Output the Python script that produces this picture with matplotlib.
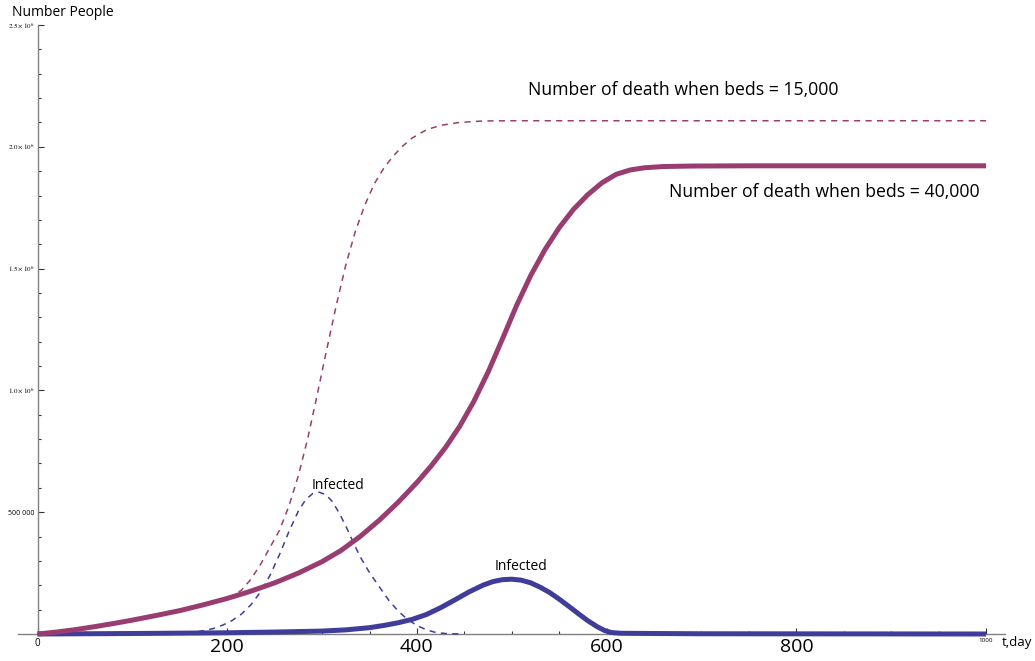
import matplotlib
matplotlib.use("Agg")
import matplotlib.pyplot as plt
from matplotlib.ticker import MultipleLocator

# deaths, 40,000 beds (solid purple), millions
days_d40 = [0, 20, 40, 60, 80, 100, 125, 150, 175, 200, 225, 250, 275, 300, 320, 340,
            360, 380, 400, 415, 430, 445, 460, 475, 490, 505, 520, 535, 550, 565, 580,
            595, 610, 625, 640, 660, 690, 750, 1000]
deaths_40 = [0.0, 0.008, 0.018, 0.030, 0.043, 0.057, 0.076, 0.096, 0.120, 0.146, 0.176,
             0.210, 0.250, 0.297, 0.343, 0.400, 0.466, 0.540, 0.622, 0.690, 0.765, 0.852,
             0.955, 1.075, 1.210, 1.348, 1.472, 1.578, 1.668, 1.743, 1.803, 1.852, 1.887,
             1.905, 1.914, 1.919, 1.921, 1.922, 1.922]

# deaths, 15,000 beds (dashed purple), millions
days_d15 = [0, 20, 40, 60, 80, 100, 125, 150, 175, 200, 205, 215, 225, 235, 245, 255,
            265, 275, 285, 295, 305, 315, 325, 335, 345, 355, 365, 375, 385, 395, 410,
            425, 445, 470, 500, 1000]
deaths_15 = [0.0, 0.008, 0.018, 0.030, 0.043, 0.057, 0.076, 0.096, 0.120, 0.146, 0.153,
             0.180, 0.225, 0.285, 0.355, 0.425, 0.525, 0.650, 0.805, 0.985, 1.170, 1.350,
             1.515, 1.652, 1.760, 1.848, 1.912, 1.962, 2.003, 2.036, 2.070, 2.088, 2.100,
             2.106, 2.107, 2.107]

# infected, 40,000 beds (solid blue), millions
days_i40 = [0, 100, 200, 250, 300, 325, 350, 365, 380, 395, 410, 425, 440, 455, 470,
            480, 490, 500, 510, 520, 530, 540, 550, 560, 570, 580, 590, 598, 605, 615,
            650, 700, 1000]
infected_40 = [0.0, 0.002, 0.005, 0.008, 0.012, 0.017, 0.026, 0.035, 0.046, 0.060, 0.080,
               0.108, 0.140, 0.173, 0.201, 0.215, 0.223, 0.225, 0.221, 0.210, 0.192,
               0.170, 0.143, 0.114, 0.084, 0.055, 0.030, 0.014, 0.006, 0.003, 0.002,
               0.001, 0.0]

# infected, 15,000 beds (dashed blue), millions
days_i15 = [0, 100, 150, 170, 185, 195, 205, 215, 225, 235, 245, 255, 265, 275, 283,
            290, 297, 304, 311, 319, 326, 333, 340, 350, 361, 370, 380, 390, 400, 410,
            420, 430, 445]
infected_15 = [0.0, 0.001, 0.004, 0.010, 0.022, 0.036, 0.055, 0.082, 0.120, 0.172, 0.240,
               0.325, 0.420, 0.505, 0.553, 0.576, 0.582, 0.572, 0.543, 0.490, 0.435,
               0.375, 0.318, 0.252, 0.190, 0.140, 0.095, 0.060, 0.035, 0.017, 0.006,
               0.002, 0.0]

x_ticks = [0, 200, 400, 600, 800, 1000]
x_labels = ["0", "200", "400", "600", "800", "1000"]
x_label_sizes = [7, 14, 14, 14, 14, 4.5]
y_ticks = [500000, 1000000, 1500000, 2000000, 2500000]
y_labels = ["500 000", r"$1.0\times10^{6}$", r"$1.5\times10^{6}$",
            r"$2.0\times10^{6}$", r"$2.5\times10^{6}$"]

BLUE = "#3f3d99"
PURPLE = "#993d71"
SCALE = 1e6

plt.rcParams["font.family"] = ["Open Sans", "DejaVu Sans"]
plt.rcParams["mathtext.fontset"] = "stix"

fig = plt.figure(figsize=(10.35, 6.61), dpi=100)
ax = fig.add_axes([18 / 1035, 27 / 661, 987 / 1035, 609 / 661])

dash_kw = dict(lw=1.1, dashes=(4, 3.5), clip_on=False, zorder=3)
solid_kw = dict(lw=3.6, solid_capstyle="butt", solid_joinstyle="round", clip_on=False, zorder=4)
ax.plot(days_i15, [v * SCALE for v in infected_15], color=BLUE, **dash_kw)
ax.plot(days_d15, [v * SCALE for v in deaths_15], color=PURPLE, **dash_kw)
ax.plot(days_i40, [v * SCALE for v in infected_40], color=BLUE, **solid_kw)
ax.plot(days_d40, [v * SCALE for v in deaths_40], color=PURPLE, **solid_kw)

ax.set_xlim(-20.6, 1020)
ax.set_ylim(0, 2.5e6)

for s in ("top", "right"):
    ax.spines[s].set_visible(False)
ax.spines["left"].set_position(("data", 0))
ax.spines["left"].set_bounds(0, 2.5e6)
for s in ("left", "bottom"):
    ax.spines[s].set_color("#808080")
    ax.spines[s].set_linewidth(1.0)

ax.set_xticks(x_ticks)
ax.set_xticklabels(x_labels)
for lab, size in zip(ax.get_xticklabels(), x_label_sizes):
    lab.set_fontsize(size)
ax.xaxis.set_minor_locator(MultipleLocator(50))
ax.set_yticks(y_ticks)
ax.set_yticklabels(y_labels, fontsize=5)
ax.yaxis.set_minor_locator(MultipleLocator(100000))
ax.tick_params(which="both", direction="in", color="#333333", width=0.8)
ax.tick_params(which="major", length=4, pad=3)
ax.tick_params(which="minor", length=2.5)
ax.tick_params(axis="y", pad=2)

ax.text(1049, -8000, "t,day", fontsize=9.5, ha="right", va="top", clip_on=False)
fig.text(12 / 1035, 1 - 12 / 661, "Number People", fontsize=10, va="center", ha="left")

ax.text(681, 2.235e6, "Number of death when beds = 15,000", fontsize=12.7, ha="center", va="center")
ax.text(829, 1.815e6, "Number of death when beds = 40,000", fontsize=12.7, ha="center", va="center")
ax.text(317, 0.608e6, "Infected", fontsize=10, ha="center", va="center")
ax.text(510, 0.279e6, "Infected", fontsize=10, ha="center", va="center")

fig.savefig("out.png", dpi=100, facecolor="white")
